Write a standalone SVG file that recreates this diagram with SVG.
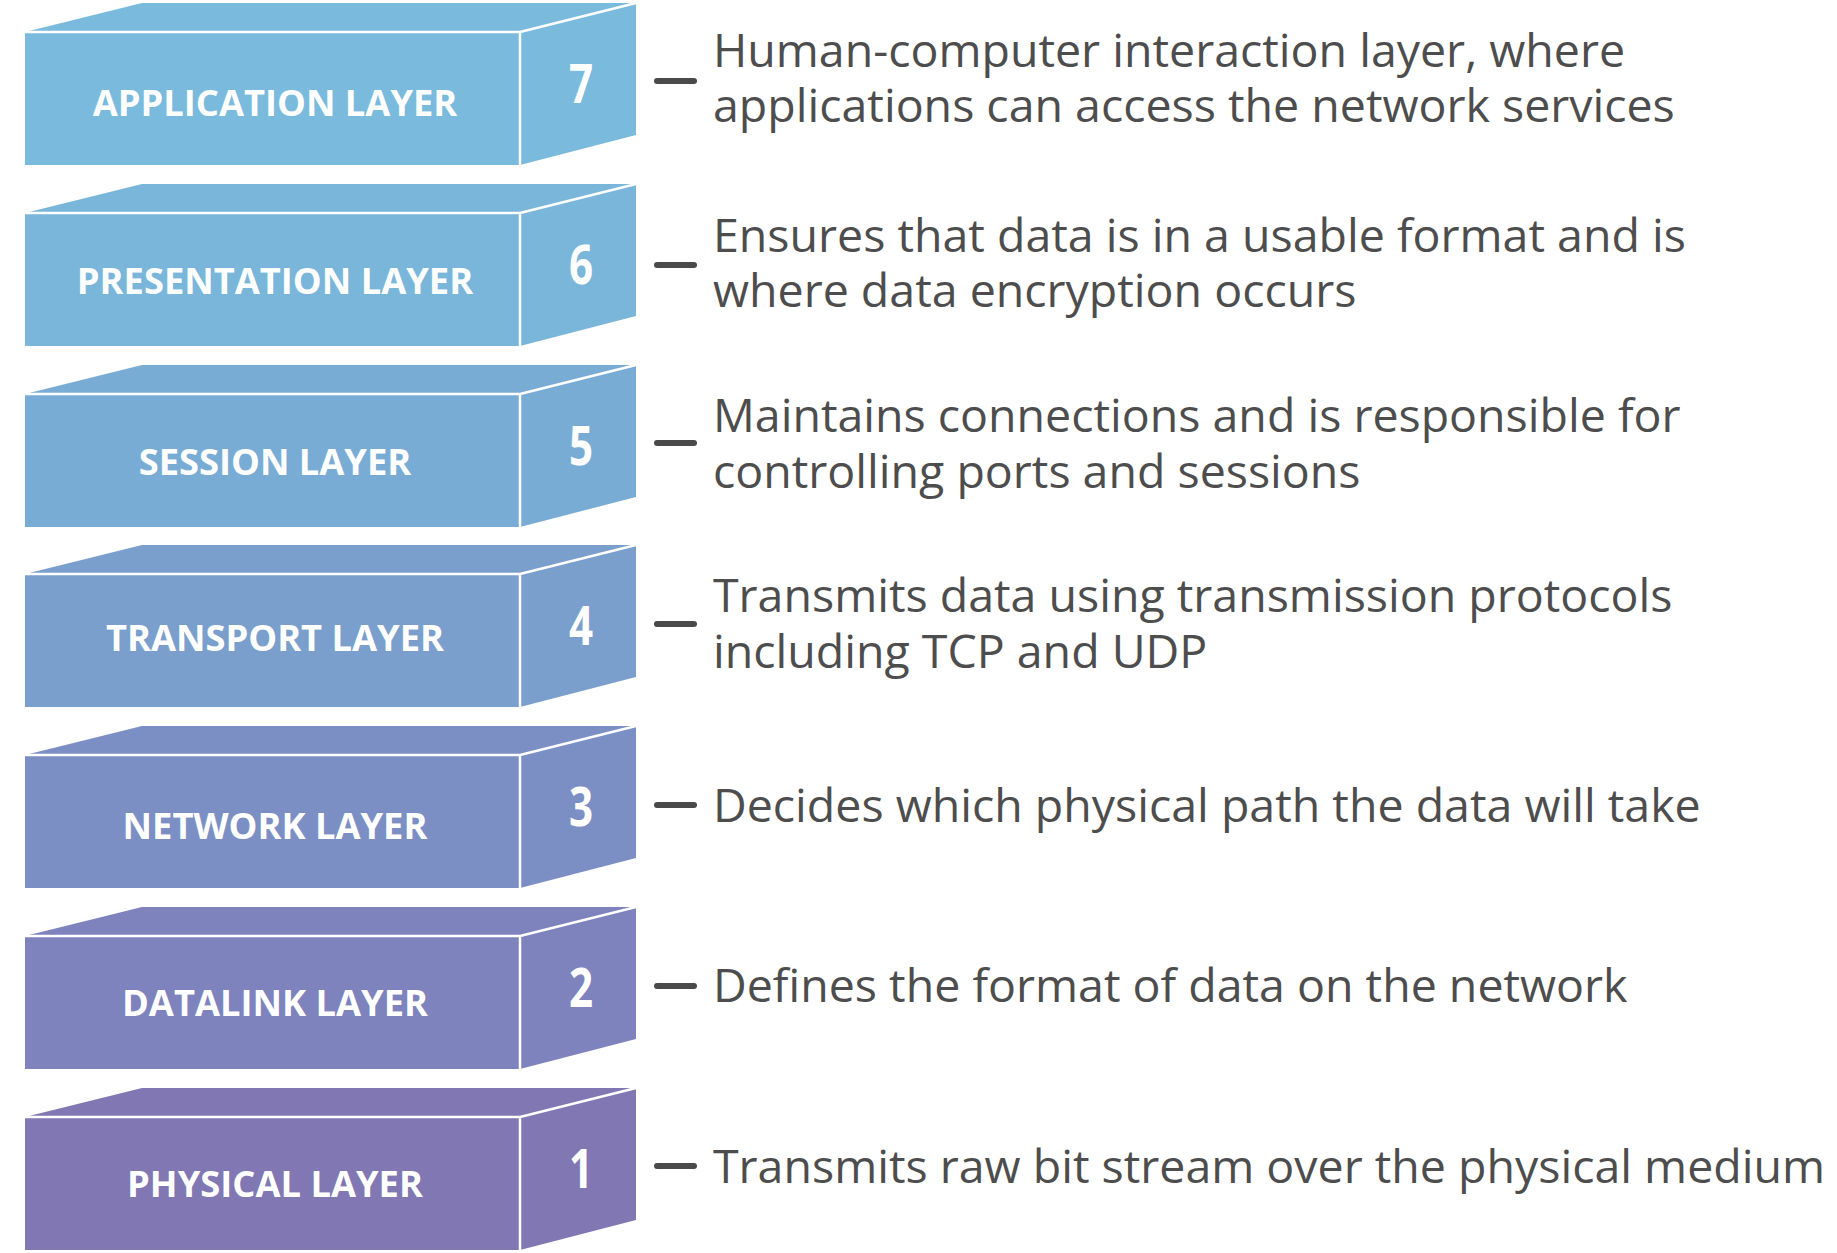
<svg xmlns="http://www.w3.org/2000/svg" width="1837" height="1253" viewBox="0 0 1837 1253">
<style>
.face{stroke:none}
.edge{stroke:#ffffff;stroke-width:2.5;fill:none}
.lbl{font-family:"Open Sans","Liberation Sans",sans-serif;font-weight:700;font-size:36.3px;fill:#ffffff;text-anchor:middle}
.num{font-family:"Open Sans","Liberation Sans",sans-serif;font-weight:700;font-size:54px;fill:#ffffff;text-anchor:middle}
.desc{font-family:"Open Sans","Liberation Sans",sans-serif;font-weight:400;font-size:46.5px;fill:#4d4d4d}
.dash{stroke:#4a4a4a;stroke-width:6;stroke-linecap:round}
</style>
<defs>
<g id="box">
<path class="edge" d="M25 0H520V133M520 0L636 -29"/>
</g>
</defs>
<rect width="1837" height="1253" fill="#ffffff"/>

<g id="layer7" transform="translate(0,32)">
<path class="face" fill="#7abadc" d="M25 0L142 -29H636V103L520 133H25Z"/>
<use href="#box"/>
<text class="lbl" x="275" y="84">APPLICATION LAYER</text>
<text class="num" transform="translate(581,71) scale(0.78,1)">7</text>
</g>
<g id="layer6" transform="translate(0,213)">
<path class="face" fill="#79b6da" d="M25 0L142 -29H636V103L520 133H25Z"/>
<use href="#box"/>
<text class="lbl" x="275" y="81">PRESENTATION LAYER</text>
<text class="num" transform="translate(581,71) scale(0.78,1)">6</text>
</g>
<g id="layer5" transform="translate(0,394)">
<path class="face" fill="#79acd5" d="M25 0L142 -29H636V103L520 133H25Z"/>
<use href="#box"/>
<text class="lbl" x="275" y="81">SESSION LAYER</text>
<text class="num" transform="translate(581,71) scale(0.78,1)">5</text>
</g>
<g id="layer4" transform="translate(0,574)">
<path class="face" fill="#7a9fcc" d="M25 0L142 -29H636V103L520 133H25Z"/>
<use href="#box"/>
<text class="lbl" x="275" y="77">TRANSPORT LAYER</text>
<text class="num" transform="translate(581,71) scale(0.78,1)">4</text>
</g>
<g id="layer3" transform="translate(0,755)">
<path class="face" fill="#7c8fc4" d="M25 0L142 -29H636V103L520 133H25Z"/>
<use href="#box"/>
<text class="lbl" x="275" y="84">NETWORK LAYER</text>
<text class="num" transform="translate(581,71) scale(0.78,1)">3</text>
</g>
<g id="layer2" transform="translate(0,936)">
<path class="face" fill="#7e83bd" d="M25 0L142 -29H636V103L520 133H25Z"/>
<use href="#box"/>
<text class="lbl" x="275" y="80">DATALINK LAYER</text>
<text class="num" transform="translate(581,71) scale(0.78,1)">2</text>
</g>
<g id="layer1" transform="translate(0,1117)">
<path class="face" fill="#8077b3" d="M25 0L142 -29H636V103L520 133H25Z"/>
<use href="#box"/>
<text class="lbl" x="275" y="80">PHYSICAL LAYER</text>
<text class="num" transform="translate(581,71) scale(0.78,1)">1</text>
</g>

<g id="connectors">
<line class="dash" x1="657" y1="81" x2="694" y2="81"/>
<line class="dash" x1="657" y1="265" x2="694" y2="265"/>
<line class="dash" x1="657" y1="443" x2="694" y2="443"/>
<line class="dash" x1="657" y1="624" x2="694" y2="624"/>
<line class="dash" x1="657" y1="805" x2="694" y2="805"/>
<line class="dash" x1="657" y1="986" x2="694" y2="986"/>
<line class="dash" x1="657" y1="1166" x2="694" y2="1166"/>
</g>

<g id="descriptions">
<text class="desc" x="713" y="67">Human-computer interaction layer, where<tspan x="713" dy="55">applications can access the network services</tspan></text>
<text class="desc" x="713" y="252">Ensures that data is in a usable format and is<tspan x="713" dy="55">where data encryption occurs</tspan></text>
<text class="desc" x="713" y="432">Maintains connections and is responsible for<tspan x="713" dy="56">controlling ports and sessions</tspan></text>
<text class="desc" x="713" y="612">Transmits data using transmission protocols<tspan x="713" dy="56">including TCP and UDP</tspan></text>
<text class="desc" x="713" y="822">Decides which physical path the data will take</text>
<text class="desc" x="713" y="1002">Defines the format of data on the network</text>
<text class="desc" x="713" y="1183">Transmits raw bit stream over the physical medium</text>
</g>
</svg>
